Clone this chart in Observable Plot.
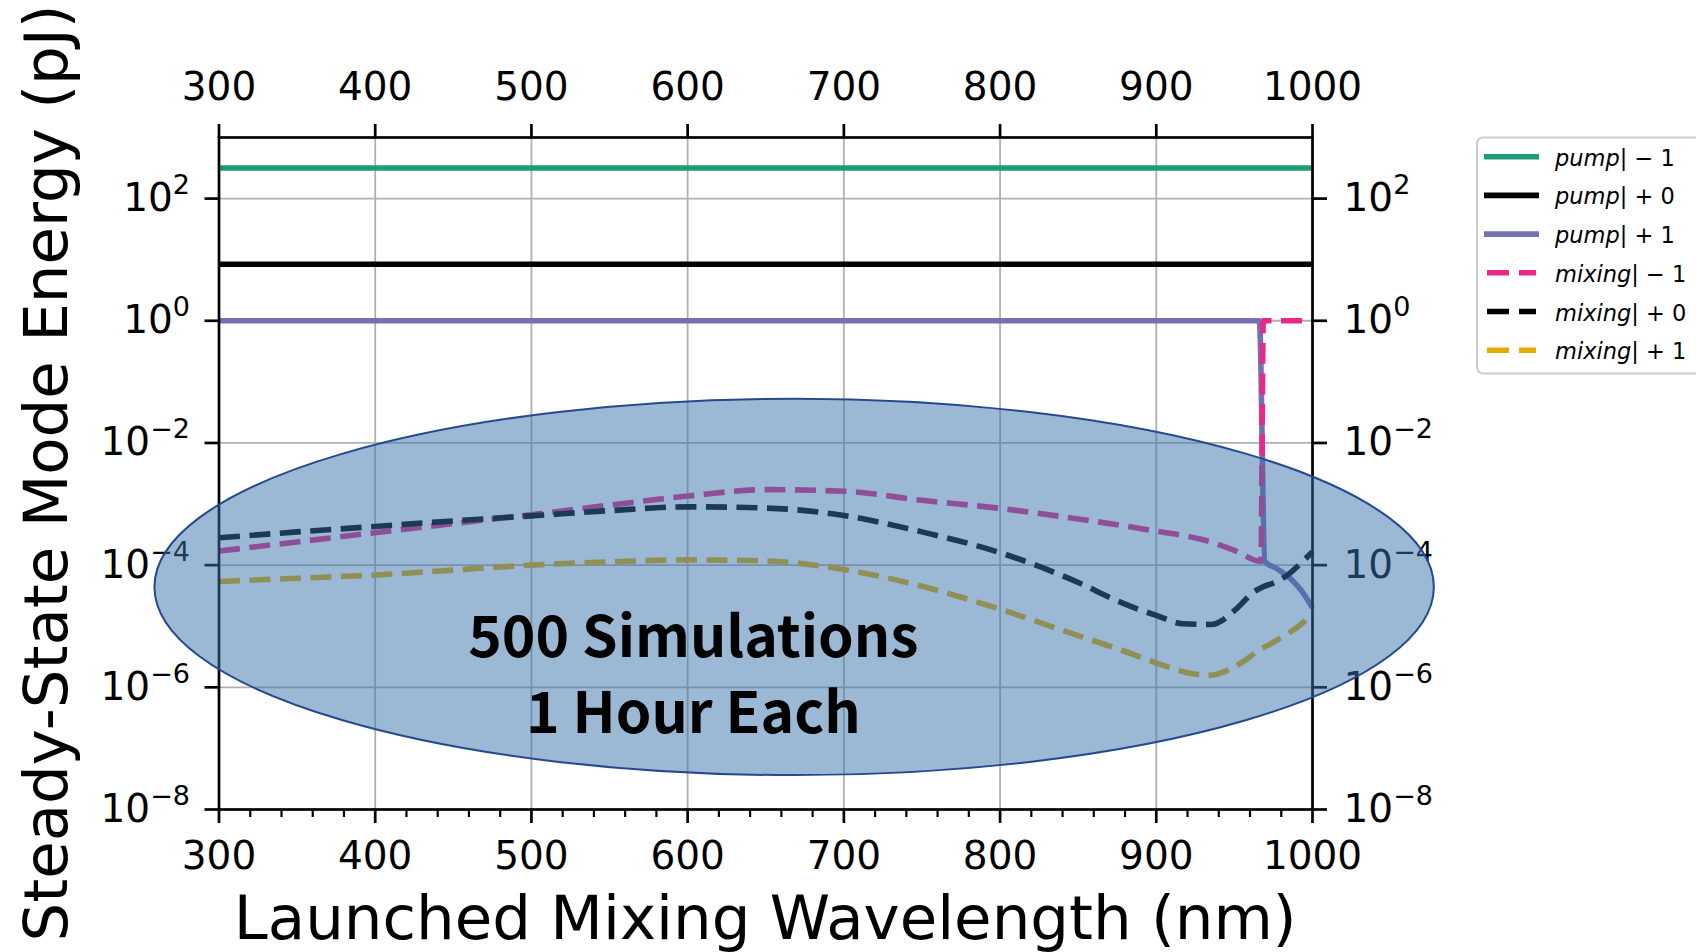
<!DOCTYPE html>
<html>
<head>
<meta charset="utf-8">
<script src="https://cdn.jsdelivr.net/npm/d3@7"></script>
<script src="https://cdn.jsdelivr.net/npm/@observablehq/plot@0.6"></script>
<style>
  html, body { margin: 0; padding: 0; background: #fff; }
  #chart { position: relative; width: 1696px; height: 952px; overflow: hidden; }
</style>
</head>
<body>
<div id="chart"></div>
<script>
// ---------------- DATA ----------------
const xTicks = [300, 400, 500, 600, 700, 800, 900, 1000];
const xMinorTicks = [320, 340, 360, 380, 420, 440, 460, 480, 520, 540, 560, 580, 620, 640, 660, 680,
                     720, 740, 760, 780, 820, 840, 860, 880, 920, 940, 960, 980];
const yTicks = [1e-8, 1e-6, 1e-4, 1e-2, 1, 1e2];
const yGridTicks = [1e-6, 1e-4, 1e-2, 1, 1e2];

// pump | -1
const pumpM1Wl = [300, 1000];
const pumpM1 = [316, 316];
// pump | +0
const pump0Wl = [300, 1000];
const pump0 = [8.4, 8.4];
// pump | +1
const pumpP1Wl = [300, 966, 969.5, 977, 986, 993, 1000];
const pumpP1 = [1, 1, 1.15e-4, 8.8e-5, 6.0e-5, 3.8e-5, 2.0e-5];
// mixing | -1
const mixingM1Wl = [300, 350, 400, 450, 500, 550, 600, 650, 700, 750, 800, 850, 900, 930, 950, 967, 968.5, 1000];
const mixingM1 = [1.7e-4, 2.4e-4, 3.4e-4, 4.8e-4, 6.7e-4, 9.6e-4, 1.35e-3, 1.72e-3, 1.62e-3, 1.15e-3, 8.5e-4,
                  5.7e-4, 3.6e-4, 2.6e-4, 1.75e-4, 1.15e-4, 1, 1];
// mixing | +0
const mixing0Wl = [300, 350, 400, 450, 500, 550, 600, 650, 700, 750, 800, 850, 875, 900, 917, 935, 952, 962,
                   969, 976, 985, 992, 1000];
const mixing0 = [2.8e-4, 3.5e-4, 4.3e-4, 5.3e-4, 6.4e-4, 7.8e-4, 9.0e-4, 8.6e-4, 6.5e-4, 3.5e-4, 1.6e-4,
                 5.2e-5, 2.6e-5, 1.5e-5, 1.1e-5, 1.07e-5, 2.0e-5, 3.6e-5, 4.5e-5, 5.2e-5, 7.2e-5, 1.05e-4, 1.65e-4];
// mixing | +1
const mixingP1Wl = [300, 350, 400, 450, 500, 550, 600, 650, 700, 750, 800, 850, 875, 900, 910, 924, 935, 949,
                    958, 966, 973, 981, 990, 1000];
const mixingP1 = [5.4e-5, 6.1e-5, 6.9e-5, 8.3e-5, 1.0e-4, 1.13e-4, 1.22e-4, 1.17e-4, 8.5e-5, 4.5e-5, 1.9e-5,
                  7.0e-6, 4.3e-6, 2.5e-6, 2.05e-6, 1.65e-6, 1.58e-6, 2.1e-6, 2.9e-6, 4.1e-6, 5.1e-6, 6.8e-6,
                  9.5e-6, 1.6e-5];

const seriesNames = ["pump", "pump", "pump", "mixing", "mixing", "mixing"];
const seriesOrders = ["− 1", "+ 0", "+ 1", "− 1", "+ 0", "+ 1"];
const seriesColors = ["#1b9e77", "#000000", "#7570b3", "#e7298a", "#000000", "#e6ab02"];
const seriesDashed = [false, false, false, true, true, true];

// annotation ellipse (data coords)
const ellipseCenterWl = 668.5;
const ellipseCenterLog = -4.365;
const ellipseHalfWidthNm = 409.5;
const ellipseHalfHeightDec = 3.08;
const noteLines = ["500 Simulations", "1 Hour Each"];
const noteWl = 604;
const noteLog = -5.51;

const xLabel = "Launched Mixing Wavelength (nm)";
const yLabel = "Steady-State Mode Energy (pJ)";

// ---------------- BUILD ----------------
const rows = (wls, vals) => wls.map((w, i) => ({wl: w, e: vals[i]}));
const seriesData = [
  rows(pumpM1Wl, pumpM1), rows(pump0Wl, pump0), rows(pumpP1Wl, pumpP1),
  rows(mixingM1Wl, mixingM1), rows(mixing0Wl, mixing0), rows(mixingP1Wl, mixingP1)
];

const LW = 5.6, DASH = "21 9.5";
const lineMarks = seriesData.map((d, i) => Plot.line(d, {
  x: "wl", y: "e", stroke: seriesColors[i], strokeWidth: LW, curve: "monotone-x",
  strokeDasharray: seriesDashed[i] ? DASH : null, strokeLinecap: "butt", strokeLinejoin: "round"
}));

function annotationMark(index, scales, values, dimensions) {
  const g = d3.create("svg:g");
  const cx = scales.x(ellipseCenterWl);
  const cy = scales.y(Math.pow(10, ellipseCenterLog));
  const rx = scales.x(ellipseCenterWl + ellipseHalfWidthNm) - cx;
  const ry = scales.y(Math.pow(10, ellipseCenterLog - ellipseHalfHeightDec)) - cy;
  g.append("ellipse").attr("cx", cx).attr("cy", cy).attr("rx", rx).attr("ry", ry)
    .attr("fill", "#3773aa").attr("fill-opacity", 0.5);
  g.append("ellipse").attr("cx", cx).attr("cy", cy).attr("rx", rx).attr("ry", ry)
    .attr("fill", "none").attr("stroke", "#25498f").attr("stroke-width", 2);
  const tx = scales.x(noteWl), ty = scales.y(Math.pow(10, noteLog));
  const t = g.append("text").attr("x", tx).attr("y", ty).attr("text-anchor", "middle")
    .attr("font-family", "'Noto Sans CJK SC', 'Source Sans Pro', Lato, sans-serif")
    .attr("font-weight", 700).attr("font-size", 57).attr("fill", "#000");
  noteLines.forEach((s, i) => t.append("tspan").attr("x", tx).attr("dy", i === 0 ? 0 : 76.5).text(s));
  return g.node();
}

function labelsMark(index, scales, values, dimensions) {
  const {width, height, marginLeft, marginRight, marginTop, marginBottom} = dimensions;
  const g = d3.create("svg:g").attr("font-family", "'DejaVu Sans', sans-serif").attr("fill", "#000");
  const cxp = (marginLeft + width - marginRight) / 2;
  const cyp = (marginTop + height - marginBottom) / 2;
  g.append("text").attr("x", cxp).attr("y", 939).attr("text-anchor", "middle")
    .attr("font-size", 61).text(xLabel);
  g.append("text").attr("transform", `translate(67,${cyp}) rotate(-90)`).attr("text-anchor", "middle")
    .attr("font-size", 61).text(yLabel);
  return g.node();
}

function legendMark() {
  const g = d3.create("svg:g").attr("font-family", "'DejaVu Sans', sans-serif").attr("text-anchor", "start");
  g.append("rect").attr("x", 1477).attr("y", 137.5).attr("width", 260).attr("height", 236).attr("rx", 6)
    .attr("fill", "#fff").attr("fill-opacity", 0.8).attr("stroke", "#cccccc").attr("stroke-width", 2);
  seriesNames.forEach((name, i) => {
    const y = 156.7 + i * 38.7;
    if (seriesDashed[i]) {
      g.append("line").attr("x1", 1487).attr("x2", 1536).attr("y1", y).attr("y2", y)
        .attr("stroke", seriesColors[i]).attr("stroke-width", LW).attr("stroke-dasharray", "22 10");
    } else {
      g.append("line").attr("x1", 1484).attr("x2", 1539).attr("y1", y).attr("y2", y)
        .attr("stroke", seriesColors[i]).attr("stroke-width", LW);
    }
    const t = g.append("text").attr("x", 1555).attr("y", y + 9).attr("font-size", 22.5)
      .attr("text-anchor", "start").attr("fill", "#000");
    t.append("tspan").attr("font-style", "italic").text(name);
    t.append("tspan").text("| " + seriesOrders[i]);
  });
  return g.node();
}

const yFmt = d => "10^" + Math.round(Math.log10(d));
const axisCommon = {strokeWidth: 2.7, fontSize: 39, label: null};

const chart = Plot.plot({
  width: 1696,
  height: 952,
  marginLeft: 218.5,
  marginRight: 384,
  marginTop: 137,
  marginBottom: 143,
  style: {fontFamily: "'DejaVu Sans', sans-serif", fontSize: "39px", background: "#fff", color: "#000", overflow: "visible"},
  x: {domain: [300, 1000], label: null},
  y: {type: "log", domain: [1e-8, 1e3], label: null},
  marks: [
    Plot.gridX(xTicks, {stroke: "#b0b0b0", strokeOpacity: 1, strokeWidth: 1.8}),
    Plot.gridY(yGridTicks, {stroke: "#b0b0b0", strokeOpacity: 1, strokeWidth: 1.8}),
    ...lineMarks,
    Plot.frame({stroke: "#000", strokeWidth: 2.7}),
    Plot.axisX(xTicks, {...axisCommon, anchor: "top", tickSize: 14, tickPadding: 24, tickFormat: d => String(d)}),
    Plot.axisX(xTicks, {...axisCommon, anchor: "bottom", tickSize: 14, tickPadding: 18, tickFormat: d => String(d)}),
    Plot.axisX(xMinorTicks, {...axisCommon, anchor: "bottom", tickSize: 8, strokeWidth: 2.2, tickFormat: () => ""}),
    Plot.axisY(yTicks, {...axisCommon, anchor: "left", tickSize: 14, tickPadding: 15, tickFormat: yFmt}),
    Plot.axisY(yTicks, {...axisCommon, anchor: "right", tickSize: 14, tickPadding: 17, tickFormat: yFmt}),
    annotationMark,
    labelsMark,
    legendMark
  ]
});

// superscript exponents on the y tick labels
chart.querySelectorAll("text").forEach(t => {
  const m = /^10\^(-?\d+)$/.exec(t.textContent);
  if (!m) return;
  const exp = m[1].replace("-", "−");
  t.textContent = "";
  const ns = "http://www.w3.org/2000/svg";
  const a = document.createElementNS(ns, "tspan"); a.textContent = "10"; t.appendChild(a);
  const b = document.createElementNS(ns, "tspan"); b.textContent = exp;
  b.setAttribute("font-size", "27px"); b.setAttribute("dy", "-17"); t.appendChild(b);
});

document.getElementById("chart").appendChild(chart);
</script>
</body>
</html>
